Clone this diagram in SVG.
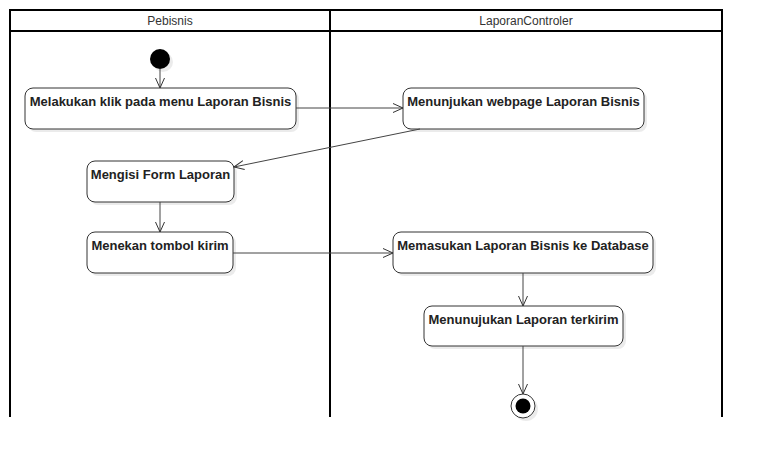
<svg xmlns="http://www.w3.org/2000/svg" width="762" height="459" viewBox="0 0 762 459">
<defs>
<marker id="arr" viewBox="0 0 10 10" refX="10" refY="5" markerWidth="10" markerHeight="10" markerUnits="userSpaceOnUse" orient="auto">
<path d="M0,0.5 L10,5 L0,9.5" fill="none" stroke="#333" stroke-width="1"/>
</marker>
</defs>
<style>
.frame{fill:none;stroke:#000;stroke-width:2}
.hdr{font-family:"Liberation Sans",Arial,sans-serif;font-size:12px;fill:#333;text-anchor:middle}
.box{fill:#fff;stroke:#333;stroke-width:1}
.sh{fill:#000;opacity:0.08}
.lbl{font-family:"Liberation Sans",Arial,sans-serif;font-size:13px;font-weight:bold;fill:#222;text-anchor:middle}
.con{fill:none;stroke:#444;stroke-width:1;marker-end:url(#arr)}
</style>
<rect width="762" height="459" fill="#fff"/>
<g id="swimlanes">
<path class="frame" d="M10,417 V10 H722 V417 M10,31 H722 M330,10 V417"/>
<text class="hdr" x="170" y="25">Pebisnis</text>
<text class="hdr" x="526" y="25">LaporanControler</text>
</g>
<g id="start">
<circle cx="163" cy="62" r="10" class="sh"/>
<circle cx="160" cy="59" r="10" fill="#000"/>
</g>
<g id="n1">
<rect x="28" y="91" width="271" height="41" rx="8" class="sh"/>
<rect x="25" y="88" width="271" height="41" rx="8" class="box"/>
<text class="lbl" x="160.5" y="106">Melakukan klik pada menu Laporan Bisnis</text>
</g>
<g id="n2">
<rect x="406" y="91" width="241" height="41" rx="8" class="sh"/>
<rect x="403" y="88" width="241" height="41" rx="8" class="box"/>
<text class="lbl" x="523.5" y="106">Menunjukan webpage Laporan Bisnis</text>
</g>
<g id="n3">
<rect x="90" y="164" width="147" height="41" rx="8" class="sh"/>
<rect x="87" y="161" width="147" height="41" rx="8" class="box"/>
<text class="lbl" x="160.5" y="179">Mengisi Form Laporan</text>
</g>
<g id="n4">
<rect x="90" y="235" width="146" height="41" rx="8" class="sh"/>
<rect x="87" y="232" width="146" height="41" rx="8" class="box"/>
<text class="lbl" x="160" y="250">Menekan tombol kirim</text>
</g>
<g id="n5">
<rect x="396" y="235" width="260" height="41" rx="8" class="sh"/>
<rect x="393" y="232" width="260" height="41" rx="8" class="box"/>
<text class="lbl" x="523" y="250">Memasukan Laporan Bisnis ke Database</text>
</g>
<g id="n6">
<rect x="427" y="309" width="199" height="40" rx="8" class="sh"/>
<rect x="424" y="306" width="199" height="40" rx="8" class="box"/>
<text class="lbl" x="523.5" y="324">Menunujukan Laporan terkirim</text>
</g>
<g id="end">
<circle cx="526" cy="409" r="12" class="sh"/>
<circle cx="523" cy="406" r="12" fill="#fff" stroke="#333" stroke-width="1"/>
<circle cx="523" cy="406" r="7.5" fill="#000"/>
</g>
<g id="connectors">
<path class="con" d="M160,69 V88"/>
<path class="con" d="M296,108 H403"/>
<path class="con" d="M420,129 L234,167"/>
<path class="con" d="M160,202 V232"/>
<path class="con" d="M233,253 H393"/>
<path class="con" d="M523,273 V306"/>
<path class="con" d="M523,346 V394"/>
</g>
</svg>
